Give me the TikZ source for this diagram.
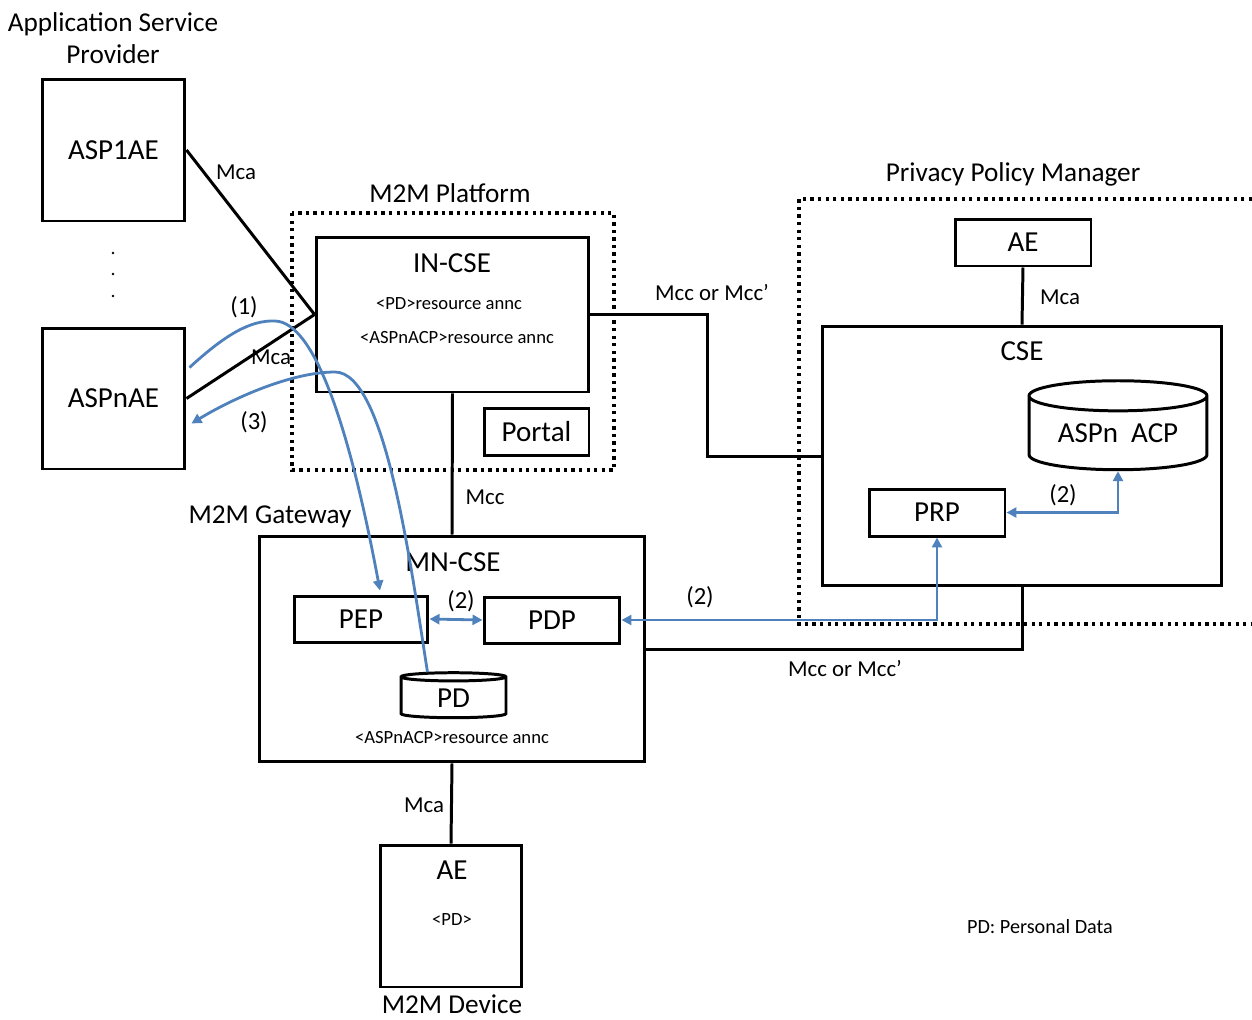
\documentclass[tikz,border=0pt]{standalone}
\usepackage{fontspec}
\setmainfont{Carlito}
\usetikzlibrary{shapes.geometric, arrows.meta, positioning, calc}
\definecolor{flow}{RGB}{79, 129, 189}

\begin{document}
\begin{tikzpicture}[x=0.02cm, y=-0.02cm,
    box/.style={rectangle, draw, line width=1.7pt, inner sep=0pt},
    store/.style={cylinder, shape border rotate=90, draw, line width=1.7pt,
                  aspect=0.25, inner sep=0pt},
    region/.style={line width=1.9pt, dash pattern=on 1.9pt off 2.4pt},
    conn/.style={line width=1.7pt},
    msg/.style={draw=flow, line width=1.6pt},
    big/.style={font=\fontsize{16.5}{19}\selectfont},
    mid/.style={font=\fontsize{15.5}{18}\selectfont},
    lbl/.style={font=\fontsize{13}{15}\selectfont},
    flownum/.style={font=\fontsize{14}{16}\selectfont},
    tiny/.style={font=\fontsize{10.6}{12}\selectfont}]
    \useasboundingbox (0,0) rectangle (1252,1019);

    % Application service provider
    \node[mid, align=center] (asptitle) at (113,38) {Application Service\\Provider};
    \node[box, big, minimum width=2.86cm, minimum height=2.84cm] (asp1) at (113.5,150) {ASP1AE};
    \node[box, big, minimum width=2.86cm, minimum height=2.82cm] (aspn) at (113.5,398.5) {ASPnAE};
    \foreach \y in {253,274,296}
        \fill (113,\y) circle (1.4);

    % M2M platform
    \draw[region] (292,213) rectangle (614,470);
    \node[mid] (plattitle) at (450,193) {M2M Platform};
    \node[box, minimum width=5.46cm, minimum height=3.1cm] (incse) at (452.5,314.5) {};
    \node[big] (incsename) at (452,263) {IN-CSE};
    \node[tiny] (pdannc) at (449,304) {<PD>resource annc};
    \node[tiny] (acpannc) at (457,338) {<ASPnACP>resource annc};
    \node[box, big, minimum width=2.1cm, minimum height=0.94cm] (portal) at (536.5,431.5) {Portal};

    % Privacy policy manager
    \draw[region] (1252,199) -- (799,199) -- (799,624) -- (1252,624);
    \node[mid] (ppmtitle) at (1013,174) {Privacy Policy Manager};
    \node[box, big, minimum width=2.72cm, minimum height=0.94cm] (ppmae) at (1023,242.5) {AE};
    \node[box, minimum width=8cm, minimum height=5.2cm] (cse) at (1022,456) {};
    \node[big] (csename) at (1022,351) {CSE};
    \node[store, big, minimum width=3.56cm, minimum height=1.78cm] (acp) at (1118,433.5) {ASPn\ \ ACP};
    \node[box, big, minimum width=2.72cm, minimum height=0.94cm] (prp) at (937,512.5) {PRP};

    % M2M gateway
    \node[mid] (gwtitle) at (270,517) {M2M Gateway};
    \node[box, minimum width=7.72cm, minimum height=4.52cm] (mncse) at (452,649) {};
    \node[big] (mncsename) at (453,562) {MN-CSE};
    \node[box, big, minimum width=2.68cm, minimum height=0.92cm] (pep) at (361,619) {PEP};
    \node[box, big, minimum width=2.72cm, minimum height=0.92cm] (pdp) at (552,620) {PDP};
    \node[store, big, minimum width=2.1cm, minimum height=0.9cm] (pd) at (453.5,698) {PD};
    \node[tiny] (gwannc) at (452,738) {<ASPnACP>resource annc};

    % M2M device
    \node[box, minimum width=2.84cm, minimum height=2.84cm] (aedev) at (451,916) {};
    \node[big] (aedevname) at (452,870) {AE};
    \node[tiny] (pdres) at (452,920) {<PD>};
    \node[mid, inner sep=0pt] (devtitle) at (452,1004) {M2M Device};

    \node[font=\fontsize{11.5}{13}\selectfont] (legend) at (1040,927) {PD:\ Personal Data};

    % Reference points
    \draw[conn] (asp1.east) -- (incse.west);
    \draw[conn] (aspn.east) -- (incse.west);
    \node[lbl] at (236,172) {Mca};
    \node[lbl] at (271,357) {Mca};
    \draw[conn] (incse.south) -- (mncse.north);
    \node[lbl] at (485,497) {Mcc};
    \draw[conn] (incse.east) -- ++(117,0) |- (cse.west);
    \node[lbl] at (712,293) {Mcc or Mcc’};
    \draw[conn] (ppmae.south) -- (cse.north);
    \node[lbl] at (1060,297) {Mca};
    \draw[conn] (cse.south) |- (mncse.east);
    \node[lbl] at (845,669) {Mcc or Mcc’};
    \draw[conn] (mncse.south) -- (aedev.north);
    \node[lbl] at (424,805) {Mca};

    % Flows
    \draw[msg, {Triangle[length=2mm,width=2mm]}-{Triangle[length=2mm,width=2mm]}] (prp.east) -| (acp.south);
    \node[flownum] at (1063,495) {(2)};
    \draw[msg, {Triangle[length=2mm,width=2mm]}-{Triangle[length=2mm,width=2mm]}] (prp.south) |- (pdp.east);
    \node[flownum] at (700,597) {(2)};
    \draw[msg, {Triangle[length=2mm,width=2mm]}-{Triangle[length=2mm,width=2mm]}] (pep.east) -- (pdp.west);
    \node[flownum] at (461,601) {(2)};
    \draw[msg, -{Triangle[length=2mm,width=2mm]}] ($(aspn.east)+(3,-31)$)
        .. controls (225,335) and (250,320) .. (275,321)
        .. controls (315,322) and (350,430) .. ($(pep.north)+(19,-4)$);
    \node[flownum] at (244,307) {(1)};
    \draw[msg, -{Triangle[length=2mm,width=2mm]}] ($(pd.north)+(-26,1)$)
        .. controls (410,560) and (385,372) .. (335,372)
        .. controls (290,372) and (230,400) .. ($(aspn.east)+(5,25)$);
    \node[flownum] at (254,422) {(3)};
\end{tikzpicture}
\end{document}
